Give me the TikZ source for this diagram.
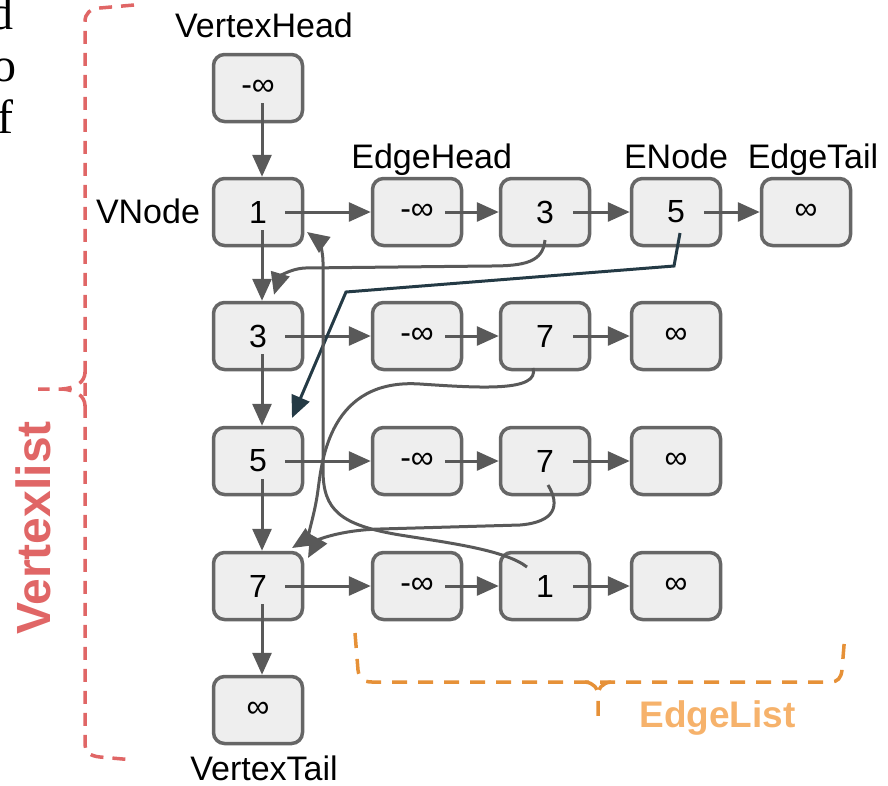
\documentclass[tikz,border=0pt]{standalone}
\usepackage{fontspec}
\setmainfont{Liberation Sans}
\newfontfamily\fragfont{Liberation Serif}
\usetikzlibrary{arrows.meta}
\definecolor{boxfill}{HTML}{EEEEEE}
\definecolor{boxdraw}{HTML}{666666}
\definecolor{arrowgray}{HTML}{595959}
\definecolor{darkarrow}{HTML}{243A45}
\definecolor{redbrace}{HTML}{E06666}
\definecolor{orangebrace}{HTML}{E69138}
\definecolor{orangetext}{HTML}{F6B26B}
\begin{document}
\begin{tikzpicture}[x=1pt,y=-1pt,
  cell/.style={draw=boxdraw, fill=boxfill, line width=3.5pt, rounded corners=11pt,
    minimum width=89pt, minimum height=67pt, inner sep=0pt,
    font=\fontsize{32}{38}\selectfont},
  lbl/.style={font=\fontsize{34}{40}\selectfont, inner sep=0pt, anchor=base},
  frag/.style={font=\fragfont\fontsize{48}{56}\selectfont, inner sep=0pt, anchor=base east},
  arr/.style={draw=arrowgray, line width=3pt, -{Triangle[length=22pt,width=19pt]}},
  redbr/.style={draw=redbrace, line width=3.5pt, dash pattern=on 13pt off 9pt},
  orbr/.style={draw=orangebrace, line width=3.5pt, dash pattern=on 15pt off 11pt}
]
\useasboundingbox (0,0) rectangle (888,785);

% text fragments at the left edge (cut off as in the reference)
\node[frag] (f1) at (14,29) {d};
\node[frag] (f2) at (17,81) {o};
\node[frag] (f3) at (14,133) {f};

% vertex column
\node[cell] (vh) at (258,88) {-∞};
\node[cell] (v1) at (258,212) {1};
\node[cell] (v2) at (258,336) {3};
\node[cell] (v3) at (258,461) {5};
\node[cell] (v4) at (258,586) {7};
\node[cell] (vt) at (258,710) {∞};

% edge rows
\node[cell] (e11) at (417,212) {-∞};
\node[cell] (e12) at (545,212) {3};
\node[cell] (e13) at (676,212) {5};
\node[cell] (e14) at (806,212) {∞};

\node[cell] (e21) at (417,336) {-∞};
\node[cell] (e22) at (545,336) {7};
\node[cell] (e23) at (676,336) {∞};

\node[cell] (e31) at (417,461) {-∞};
\node[cell] (e32) at (545,461) {7};
\node[cell] (e33) at (676,461) {∞};

\node[cell] (e41) at (417,586) {-∞};
\node[cell] (e42) at (545,586) {1};
\node[cell] (e43) at (676,586) {∞};

% labels
\node[lbl] (lvh) at (264,37) {VertexHead};
\node[lbl] (leh) at (431.7,168) {EdgeHead};
\node[lbl] (len) at (676,168) {ENode};
\node[lbl] (let) at (813,168) {EdgeTail};
\node[lbl] (lvn) at (148,223) {VNode};
\node[lbl] (lvt) at (264,780) {VertexTail};

% vertical arrows
\draw[arr] ([xshift=4pt,yshift=-15pt]vh.center) -- ([xshift=4pt]v1.north);
\draw[arr] ([xshift=4pt,yshift=-18pt]v1.center) -- ([xshift=4pt]v2.north);
\draw[arr] ([xshift=4pt,yshift=-18pt]v2.center) -- ([xshift=4pt]v3.north);
\draw[arr] ([xshift=4pt,yshift=-18pt]v3.center) -- ([xshift=4pt]v4.north);
\draw[arr] ([xshift=4pt,yshift=-18pt]v4.center) -- ([xshift=4pt]vt.north);

% horizontal arrows
\draw[arr] ([xshift=27pt]v1.center) -- (e11.west);
\draw[arr] ([xshift=28pt]e11.center) -- (e12.west);
\draw[arr] ([xshift=28pt]e12.center) -- (e13.west);
\draw[arr] ([xshift=28pt]e13.center) -- (e14.west);

\draw[arr] ([xshift=27pt]v2.center) -- (e21.west);
\draw[arr] ([xshift=28pt]e21.center) -- (e22.west);
\draw[arr] ([xshift=28pt]e22.center) -- (e23.west);

\draw[arr] ([xshift=27pt]v3.center) -- (e31.west);
\draw[arr] ([xshift=28pt]e31.center) -- (e32.west);
\draw[arr] ([xshift=28pt]e32.center) -- (e33.west);

\draw[arr] ([xshift=27pt]v4.center) -- (e41.west);
\draw[arr] ([xshift=28pt]e41.center) -- (e42.west);
\draw[arr] ([xshift=28pt]e42.center) -- (e43.west);

% curved edge pointers
\draw[arr] ([yshift=-28pt]e12.center) .. controls (543,262) and (525,266) .. (490,266)
  -- (305,268) .. controls (288,269) and (279,278) .. ([xshift=16pt,yshift=6pt]v2.north);

\draw[arr, draw=darkarrow] ([xshift=4pt,yshift=-21pt]e13.center) -- (674,266) -- (346,292)
  -- ([xshift=34pt,yshift=43pt]v3.center);

\draw[arr] ([xshift=-12pt,yshift=-32pt]e22.center) .. controls (540,392) and (480,388) .. (420,384)
  .. controls (330,378) and (322,460) .. (318,490)
  .. controls (314,520) and (305,540) .. ([xshift=34pt,yshift=38pt]v4.center);

\draw[arr] ([xshift=3pt,yshift=-24pt]e32.center) .. controls (560,505) and (556,522) .. (520,525)
  -- (380,529) .. controls (340,530) and (318,540) .. ([xshift=50pt,yshift=28pt]v4.center);

\draw[arr] ([xshift=-18pt,yshift=19pt]e42.center) .. controls (505,550) and (450,543) .. (400,535)
  .. controls (340,525) and (323,510) .. (323,470) -- (323,262)
  .. controls (323,250) and (318,240) .. ([xshift=49pt,yshift=-20pt]v1.center);

% red brace (Vertexlist)
\draw[redbr] (134,5) -- (100,8) .. controls (90,9) and (85,13) .. (85,22) -- (85,745)
  .. controls (85,752) and (90,756) .. (100,757) -- (134,760);
\draw[redbr] (85,372) .. controls (85,382) and (76,388) .. (62,389) -- (38,389);
\draw[redbr] (85,406) .. controls (85,396) and (76,390) .. (62,389);
\node[font=\bfseries\fontsize{48}{56}\selectfont, text=redbrace, rotate=90, inner sep=0pt]
  (vl) at (33,528) {Vertexlist};

% orange brace (EdgeList)
\draw[orbr] (355,633) -- (358,670) .. controls (359,678) and (363,682) .. (372,682) -- (830,682)
  .. controls (838,682) and (841,678) .. (842,670) -- (845,633);
\draw[orbr] (585,682) .. controls (594,683) and (598,688) .. (598,697) -- (598,725);
\draw[orbr] (611,682) .. controls (602,683) and (598,688) .. (598,697);
\node[font=\bfseries\fontsize{37}{44}\selectfont, text=orangetext, anchor=base, inner sep=0pt]
  (el) at (717.5,727) {EdgeList};
\end{tikzpicture}
\end{document}
